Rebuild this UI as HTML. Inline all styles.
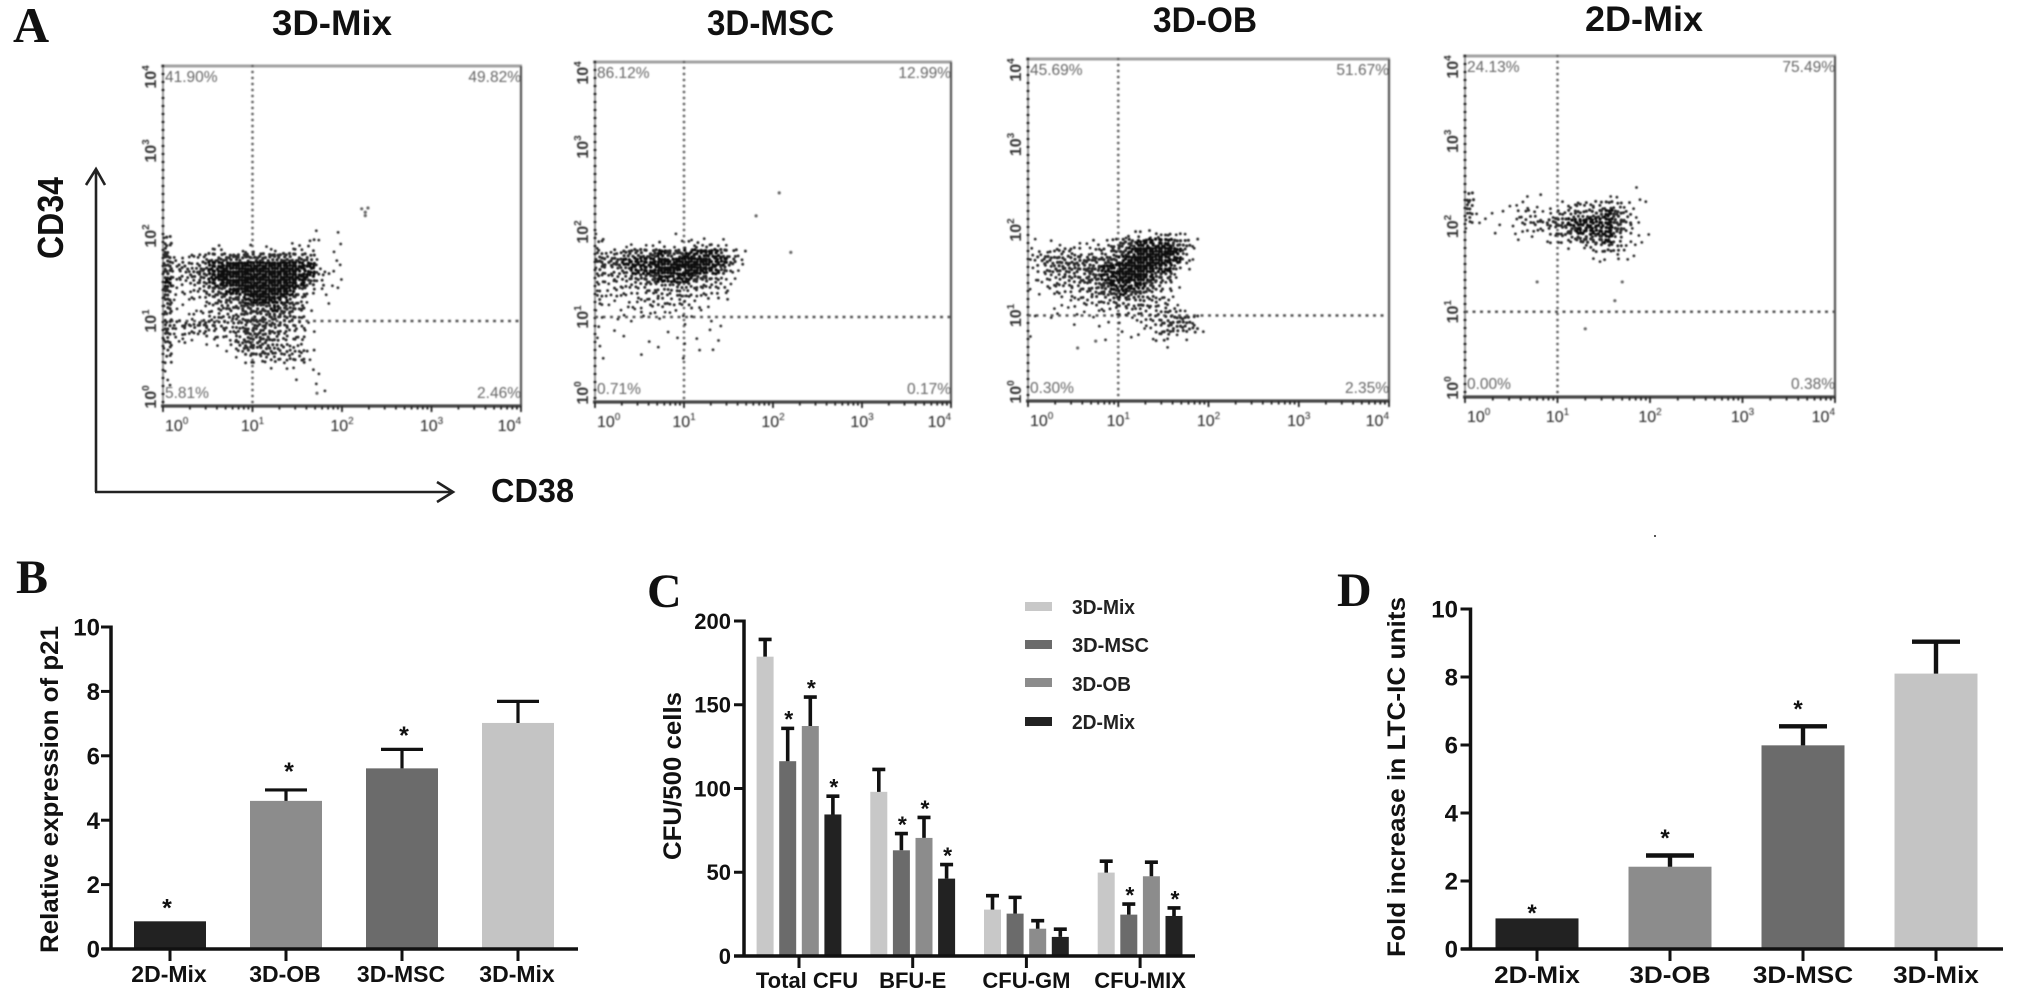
<!DOCTYPE html>
<html lang="en">
<head>
<meta charset="utf-8">
<title>CD34/CD38 flow cytometry and colony assays</title>
<style>
html,body{margin:0;padding:0;background:#fff;}
svg{display:block;font-family:"Liberation Sans",sans-serif;}
</style>
</head>
<body>
<svg id="figure" xmlns="http://www.w3.org/2000/svg" width="2031" height="1002" viewBox="0 0 2031 1002">
  <defs>
    <filter id="soft" x="-5%" y="-5%" width="110%" height="110%"><feGaussianBlur stdDeviation="0.7"/></filter>
  </defs>
  <rect x="0" y="0" width="2031" height="1002" fill="#fff"/>

  <text x="13" y="42" font-family="Liberation Serif, serif" font-weight="700" font-size="50" fill="#111">A</text>
  <text x="16" y="593" font-family="Liberation Serif, serif" font-weight="700" font-size="48" fill="#111">B</text>
  <text x="647" y="607" font-family="Liberation Serif, serif" font-weight="700" font-size="48" fill="#111">C</text>
  <text x="1337" y="606" font-family="Liberation Serif, serif" font-weight="700" font-size="48" fill="#111">D</text>

  <text x="272" y="35" font-weight="700" font-size="35" textLength="120" lengthAdjust="spacingAndGlyphs" fill="#111">3D-Mix</text>
  <text x="707" y="35" font-weight="700" font-size="35" textLength="127" lengthAdjust="spacingAndGlyphs" fill="#111">3D-MSC</text>
  <text x="1153" y="32" font-weight="700" font-size="35" textLength="104" lengthAdjust="spacingAndGlyphs" fill="#111">3D-OB</text>
  <text x="1585" y="31" font-weight="700" font-size="35" textLength="118" lengthAdjust="spacingAndGlyphs" fill="#111">2D-Mix</text>

  <g fill="none" stroke="#222" stroke-width="2.6">
    <path d="M96 492V169M86 185L96 169L105 185"/>
    <path d="M95 492H453M437 482L453 492L437 502"/>
  </g>
  <text transform="translate(63,259) rotate(-90)" font-weight="700" font-size="36" textLength="82" lengthAdjust="spacingAndGlyphs" fill="#111">CD34</text>
  <text x="491" y="502" font-weight="700" font-size="33" textLength="83" lengthAdjust="spacingAndGlyphs" fill="#111">CD38</text>

  <text transform="translate(58,953) rotate(-90)" font-weight="700" font-size="25" textLength="327" lengthAdjust="spacingAndGlyphs" fill="#111">Relative expression of p21</text>
  <text transform="translate(681,860) rotate(-90)" font-weight="700" font-size="25" textLength="168" lengthAdjust="spacingAndGlyphs" fill="#111">CFU/500 cells</text>
  <text transform="translate(1405,957) rotate(-90)" font-weight="700" font-size="25" textLength="360" lengthAdjust="spacingAndGlyphs" fill="#111">Fold increase in LTC-IC units</text>

  <g>
    <rect x="1025" y="602" width="27" height="9" fill="#c8c8c8"/>
    <text x="1072" y="614" font-weight="700" font-size="20" textLength="63" lengthAdjust="spacingAndGlyphs" fill="#222">3D-Mix</text>
    <rect x="1025" y="640" width="27" height="9" fill="#6b6b6b"/>
    <text x="1072" y="652" font-weight="700" font-size="20" textLength="77" lengthAdjust="spacingAndGlyphs" fill="#222">3D-MSC</text>
    <rect x="1025" y="678" width="27" height="9" fill="#8c8c8c"/>
    <text x="1072" y="691" font-weight="700" font-size="20" textLength="59" lengthAdjust="spacingAndGlyphs" fill="#222">3D-OB</text>
    <rect x="1025" y="717" width="27" height="9" fill="#222"/>
    <text x="1072" y="729" font-weight="700" font-size="20" textLength="63" lengthAdjust="spacingAndGlyphs" fill="#222">2D-Mix</text>
  </g>
  <rect x="1654" y="535" width="2" height="2" fill="#555"/>
</svg>

<script>
/* ---------- Panel A: flow cytometry, binned event density (0-9).
   Rows run from log10 CD34 = 2.5 downward in 0.1 steps; columns from log10 CD38 = 0 rightward in 0.1 steps. */
const decadeExponents = ['0','1','2','3','4'];

const gridMix = [
"","","","",
"00000000000000000101",
"50000000000000102101",
"50000220121120222001",
"62234667667777765101",
"74546889999999988201",
"74457899999999988321",
"83245889999999986311",
"72234678899999853111",
"61123456789988641010",
"61112345677787651000",
"51122344566666530000",
"64546544556655431000",
"52334333467654331000",
"51211112576654330000",
"40000001366655432000",
"40000000132343441000",
"10000000000011101000",
"10000000000000100100",
"10000000000000000100",
"00000000000000000010",
""
];
const gridMsc = [
"","","","",
"",
"20000000011010100000",
"3001111211233210",
"43466778778888742",
"66788889899998852",
"54458889989988621",
"4344567888876421",
"3233344445444331",
"322233343432332",
"2112223332321",
"101112211211",
"1010100100100100",
"10100000100010100",
"10010010010101",
"1000000100110100",
"10000100010",
"","","","",""
];
const gridOb = [
"","","","",
"",
"00000000001222332100",
"10110112246788887520",
"22344423457899998410",
"25666666778999988310",
"14566677889999884100",
"12345567889998752000",
"11344455788887531000",
"01133335678765321000",
"00011233345454431000",
"00111111233333343100",
"10100001101123456630",
"00000101001012455541",
"10000000100111331100",
"00000000000000010000",
"","","","","",""
];
const gridTwoD = [
"00000000000000000010",
"50000010100000011010",
"50001121011344454211",
"41101233124556787410",
"31110234567888887510",
"10010122245788887311",
"00000101123467784111",
"00000000000113454210",
"00000000000001012110",
"00000000000000100000",
"","","","","","","","","","","","","","",""
];

const outliersMix = [[2.22,2.32],[2.26,2.28],[2.29,2.33],[2.26,2.24],[1.72,0.15]];
const outliersMsc = [[2.07,2.46],[1.81,2.19],[2.2,1.76]];
const outliersOb = [[0.55,0.62],[0.75,0.7]];
const outliersTwoD = [[0.78,1.35],[1.7,1.35],[1.62,1.13],[1.3,0.8]];

const percentMix = ['41.90%','49.82%','5.81%','2.46%'];
const percentMsc = ['86.12%','12.99%','0.71%','0.17%'];
const percentOb = ['45.69%','51.67%','0.30%','2.35%'];
const percentTwoD = ['24.13%','75.49%','0.00%','0.38%'];

/* ---------- Panel B ---------- */
const categoriesB = ['2D-Mix','3D-OB','3D-MSC','3D-Mix'];
const valuesB = [0.86,4.6,5.61,7.02];
const errorsB = [0.86,4.94,6.2,7.69];
const starLevelsB = [1.45,5.68,6.8,null];
const ticksB = [0,2,4,6,8,10];

/* ---------- Panel C ---------- */
const categoriesC = ['Total CFU','BFU-E','CFU-GM','CFU-MIX'];
const mix3dC = [178.7,98,27.7,49.8];
const msc3dC = [116.3,63.1,25.3,24.7];
const ob3dC = [137.3,70.5,16.3,47.6];
const mix2dC = [84.5,46.2,11.4,23.9];
const mix3dErrC = [189,111.4,36,56.6];
const msc3dErrC = [135.9,73.1,35,31];
const ob3dErrC = [154.6,82.7,21.1,56];
const mix2dErrC = [95.4,54.6,16,28.7];
const mix3dStarC = [0,0,0,0];
const msc3dStarC = [1,1,0,1];
const ob3dStarC = [1,1,0,0];
const mix2dStarC = [1,1,0,1];
const ticksC = [0,50,100,150,200];

/* ---------- Panel D ---------- */
const categoriesD = ['2D-Mix','3D-OB','3D-MSC','3D-Mix'];
const valuesD = [0.9,2.42,5.99,8.1];
const errorsD = [0.9,2.75,6.55,9.04];
const starLevelsD = [1.22,3.42,7.22,null];
const ticksD = [0,2,4,6,8,10];

/* ---------- Drawing ---------- */
const svg = document.getElementById('figure');
const NS = 'http://www.w3.org/2000/svg';
function mk(parent, tag, attrs, text) {
  const el = document.createElementNS(NS, tag);
  for (const k in attrs) el.setAttribute(k, attrs[k]);
  if (text !== undefined) el.textContent = text;
  parent.appendChild(el);
  return el;
}
function slug(s) { return String(s).toLowerCase().replace(/[^a-z0-9]+/g, '-'); }

function drawFlow(key, box, grid, outliers, percents) {
  const sx = v => box.l + (box.r - box.l) * v / 4;
  const sy = v => box.b - (box.b - box.t) * v / 4;

  const g = mk(svg, 'g', {filter: 'url(#soft)'});
  
  

  const top = mk(g, 'line', {x1: box.l - 2, x2: box.r + 1, y1: box.t, y2: box.t, stroke: '#a0a0a0', 'stroke-width': 3});
  
  
  const right = mk(g, 'line', {x1: box.r, x2: box.r, y1: box.t, y2: box.b, stroke: '#555', 'stroke-width': 2.2});
  
  
  const leftBase = mk(g, 'line', {x1: box.l, x2: box.l, y1: box.t, y2: box.b, stroke: '#999', 'stroke-width': 2});
  
  
  const leftDots = mk(g, 'line', {x1: box.l, x2: box.l, y1: box.t, y2: box.b, stroke: '#222', 'stroke-width': 3, 'stroke-dasharray': '0 8', 'stroke-linecap': 'round'});
  
  
  const bottom = mk(g, 'line', {x1: box.l - 2, x2: box.r + 1, y1: box.b, y2: box.b, stroke: '#444', 'stroke-width': 3.2});
  
  

  let minor = '';
  for (let d = 0; d < 4; d++) {
    for (let k = 1; k < 10; k++) {
      const p = sx(d + Math.log10(k));
      minor += 'M' + p.toFixed(1) + ' ' + box.b + 'v' + (k === 1 ? 6 : 3.5);
    }
  }
  minor += 'M' + box.r + ' ' + box.b + 'v6';
  const minorPath = mk(g, 'path', {d: minor, stroke: '#222', 'stroke-width': 1.8, fill: 'none'});
  
  

  const vq = mk(g, 'line', {x1: sx(1), x2: sx(1), y1: box.t, y2: box.b, stroke: '#666', 'stroke-width': 2.8, 'stroke-dasharray': '0 6', 'stroke-linecap': 'round'});
  
  
  const hq = mk(g, 'line', {x1: box.l, x2: box.r, y1: sy(1), y2: sy(1), stroke: '#555', 'stroke-width': 2.6, 'stroke-dasharray': '3 4.5'});
  
  

  const cloud = mk(g, 'g', {fill: 'none', 'stroke-linecap': 'round'});
  
  
  const order = [4,0,8,2,6,1,7,3,5];
  const nudgeX = [0.4,-0.7,0.8,-0.3,0.6,-0.8,0.2,0.9,-0.5];
  const nudgeY = [-0.6,0.5,0.2,-0.9,0.7,-0.2,0.9,-0.4,0.3];
  grid.forEach((row, r) => {
    for (let c = 0; c < 20; c++) {
      const n = Number(row[c] || 0);
      if (!n) continue;
      const x0 = sx(c * 0.1), x1 = sx((c + 1) * 0.1);
      const y0 = sy(2.5 - r * 0.1), y1 = sy(2.4 - r * 0.1);
      const dx = (x1 - x0) / 3, dy = (y1 - y0) / 3;
      let d = '';
      for (let i = 0; i < n; i++) {
        const key2 = r * 2 + c * 5 + i;
        const slot = order[(i + r * 2 + c) % 9];
        const wobble = n < 9 ? 1 : 0.5;
        const px = x0 + (slot % 3 + 0.5) * dx + wobble * nudgeX[key2 % 9];
        const py = y0 + (Math.floor(slot / 3) + 0.5) * dy + wobble * nudgeY[key2 % 9];
        d += 'M' + px.toFixed(1) + ' ' + py.toFixed(1) + 'h0.01';
      }
      const cell = mk(cloud, 'path', {d: d, stroke: n >= 8 ? '#0a0a0a' : '#2a2a2a', 'stroke-width': (2.7 + n * 0.08).toFixed(2)});
      
      
    }
  });
  outliers.forEach(p => {
    const pt = mk(g, 'circle', {cx: sx(p[0]), cy: sy(p[1]), r: 1.6, fill: '#666'});
    
    
  });

  const pctStyle = {'font-size': 15.5, fill: '#666'};
  const tl = mk(g, 'text', Object.assign({x: box.l + 2, y: box.t + 16}, pctStyle), percents[0]);
  
  
  const tr = mk(g, 'text', Object.assign({x: box.r, y: box.t + 16, 'text-anchor': 'end'}, pctStyle), percents[1]);
  
  
  const bl = mk(g, 'text', Object.assign({x: box.l + 2, y: box.b - 8}, pctStyle), percents[2]);
  
  
  const br = mk(g, 'text', Object.assign({x: box.r, y: box.b - 8, 'text-anchor': 'end'}, pctStyle), percents[3]);
  
  

  decadeExponents.forEach((e, i) => {
    const anchor = i === 0 ? 'start' : (i === 4 ? 'end' : 'middle');
    const xOff = i === 0 ? 2 : 0;
    const xl = mk(g, 'text', {x: sx(i) + xOff, y: box.b + 25, 'font-size': 16, fill: '#222', 'text-anchor': anchor}, '10');
    
    
    mk(xl, 'tspan', {dy: -7, 'font-size': 10}, e);

    const yPos = sy(i) + (i === 0 ? -9 : (i === 4 ? 11 : 0));
    const yl = mk(g, 'text', {transform: 'translate(' + (box.l - 7) + ',' + yPos + ') rotate(-90)', 'font-size': 16, 'font-weight': 700, fill: '#333', 'text-anchor': 'middle'}, '10');
    
    
    mk(yl, 'tspan', {dy: -7, 'font-size': 10}, e);
  });
}

drawFlow('3d-mix', {l:163,r:521,t:66,b:406}, gridMix, outliersMix, percentMix);
drawFlow('3d-msc', {l:595,r:951,t:62,b:402}, gridMsc, outliersMsc, percentMsc);
drawFlow('3d-ob', {l:1028,r:1389,t:59,b:401}, gridOb, outliersOb, percentOb);
drawFlow('2d-mix', {l:1465,r:1835,t:56,b:397}, gridTwoD, outliersTwoD, percentTwoD);

function drawAxes(g, o, ticks) {
  const xAxis = mk(g, 'line', {x1: o.axisStart, x2: o.axisEnd, y1: o.y0, y2: o.y0, stroke: '#111', 'stroke-width': 3.5});
  
  
  const yAxis = mk(g, 'line', {x1: o.axisX, x2: o.axisX, y1: o.yMax - 1.5, y2: o.y0, stroke: '#111', 'stroke-width': 3.5});
  
  
  ticks.forEach(t => {
    const y = o.sy(t);
    const tk = mk(g, 'line', {x1: o.axisX - 10, x2: o.axisX, y1: y, y2: y, stroke: '#111', 'stroke-width': 3});
    
    
    const lb = mk(g, 'text', {x: o.tickRight, y: y + o.tickFs * 0.36, 'font-size': o.tickFs, 'font-weight': 700, 'text-anchor': 'end', fill: '#111'}, t);
    
    
  });
}
function drawXLabel(g, o, cx, text, shift) {
  const tk = mk(g, 'line', {x1: cx, x2: cx, y1: o.y0, y2: o.y0 + 12, stroke: '#111', 'stroke-width': 3});
  
  
  const lb = mk(g, 'text', {transform: 'translate(' + (cx + shift) + ',' + o.labelY + ') scale(' + o.labelStretch + ',1)', 'font-size': o.labelFs, 'font-weight': 700, 'text-anchor': 'middle', fill: '#111'}, text);
  
  
}
function drawBar(g, cx, w, o, val, err, color, capW, thick, name) {
  const top = o.sy(val);
  const bar = mk(g, 'rect', {x: cx - w / 2, y: top, width: w, height: o.y0 - top, fill: color});
  
  
  if (err > val) {
    const eTop = o.sy(err);
    const eb = mk(g, 'path', {d: 'M' + cx + ' ' + top + 'V' + eTop + 'M' + (cx - capW / 2) + ' ' + eTop + 'H' + (cx + capW / 2), stroke: '#111', 'stroke-width': thick, fill: 'none'});
    
    
  }
}
function drawStar(g, x, yCentre, fs) {
  const st = mk(g, 'text', {x: x, y: yCentre + fs * 0.56, 'font-size': fs, 'font-weight': 700, 'text-anchor': 'middle', fill: '#111'}, '*');
  
  
}

/* Panel B */
(function () {
  const y0 = 949, yMax = 627;
  const o = {y0: y0, yMax: yMax, axisX: 111, axisStart: 102, axisEnd: 578, tickRight: 100, tickFs: 24, labelFs: 23, labelY: 982, labelStretch: 1,
    sy: v => y0 - (y0 - yMax) * v / 10};
  const colors = ['#222222', '#8c8c8c', '#6b6b6b', '#c4c4c4'];
  const starShift = [-3, 3, 2, 0];
  const g = mk(svg, 'g', {});
  
  
  const sx = i => 170 + 116 * i;
  categoriesB.forEach((c, i) => {
    drawBar(g, sx(i), 72, o, valuesB[i], errorsB[i], colors[i], 42, 3.2, slug(c));
    if (starLevelsB[i] !== null) drawStar(g, sx(i) + starShift[i], o.sy(starLevelsB[i]), 25);
  });
  drawAxes(g, o, ticksB);
  categoriesB.forEach((c, i) => drawXLabel(g, o, sx(i), c, -1));
})();

/* Panel C */
(function () {
  const y0 = 956, yMax = 621;
  const o = {y0: y0, yMax: yMax, axisX: 744, axisStart: 734, axisEnd: 1195, tickRight: 731, tickFs: 22, labelFs: 22, labelY: 988, labelStretch: 1,
    sy: v => y0 - (y0 - yMax) * v / 200};
  const g = mk(svg, 'g', {});
  
  
  const sx = i => 799 + 113.7 * i;
  const labelShift = [8, 0, 0, 0];
  const series = [
    {name: '3d-mix', vals: mix3dC, errs: mix3dErrC, stars: mix3dStarC, color: '#c8c8c8', off: -33.9},
    {name: '3d-msc', vals: msc3dC, errs: msc3dErrC, stars: msc3dStarC, color: '#6b6b6b', off: -11.3},
    {name: '3d-ob', vals: ob3dC, errs: ob3dErrC, stars: ob3dStarC, color: '#8c8c8c', off: 11.3},
    {name: '2d-mix', vals: mix2dC, errs: mix2dErrC, stars: mix2dStarC, color: '#222222', off: 33.9}
  ];
  series.forEach(s => {
    categoriesC.forEach((c, i) => {
      const cx = sx(i) + s.off;
      drawBar(g, cx, 17, o, s.vals[i], s.errs[i], s.color, 13, 3.6, s.name + '-' + slug(c));
      if (s.stars[i]) drawStar(g, cx + 1, o.sy(s.errs[i]) - 14, 23);
    });
  });
  drawAxes(g, o, ticksC);
  categoriesC.forEach((c, i) => drawXLabel(g, o, sx(i), c, labelShift[i]));
})();

/* Panel D */
(function () {
  const y0 = 949, yMax = 609;
  const o = {y0: y0, yMax: yMax, axisX: 1470.5, axisStart: 1461, axisEnd: 2003, tickRight: 1458, tickFs: 24, labelFs: 24, labelY: 983, labelStretch: 1.09,
    sy: v => y0 - (y0 - yMax) * v / 10};
  const colors = ['#222222', '#8c8c8c', '#6b6b6b', '#c4c4c4'];
  const g = mk(svg, 'g', {});
  
  
  const sx = i => 1537 + 133 * i;
  categoriesD.forEach((c, i) => {
    drawBar(g, sx(i), 83, o, valuesD[i], errorsD[i], colors[i], 48, 4.4, slug(c));
    if (starLevelsD[i] !== null) drawStar(g, sx(i) - 5, o.sy(starLevelsD[i]), 24);
  });
  drawAxes(g, o, ticksD);
  categoriesD.forEach((c, i) => drawXLabel(g, o, sx(i), c, 0));
})();
</script>
</body>
</html>
